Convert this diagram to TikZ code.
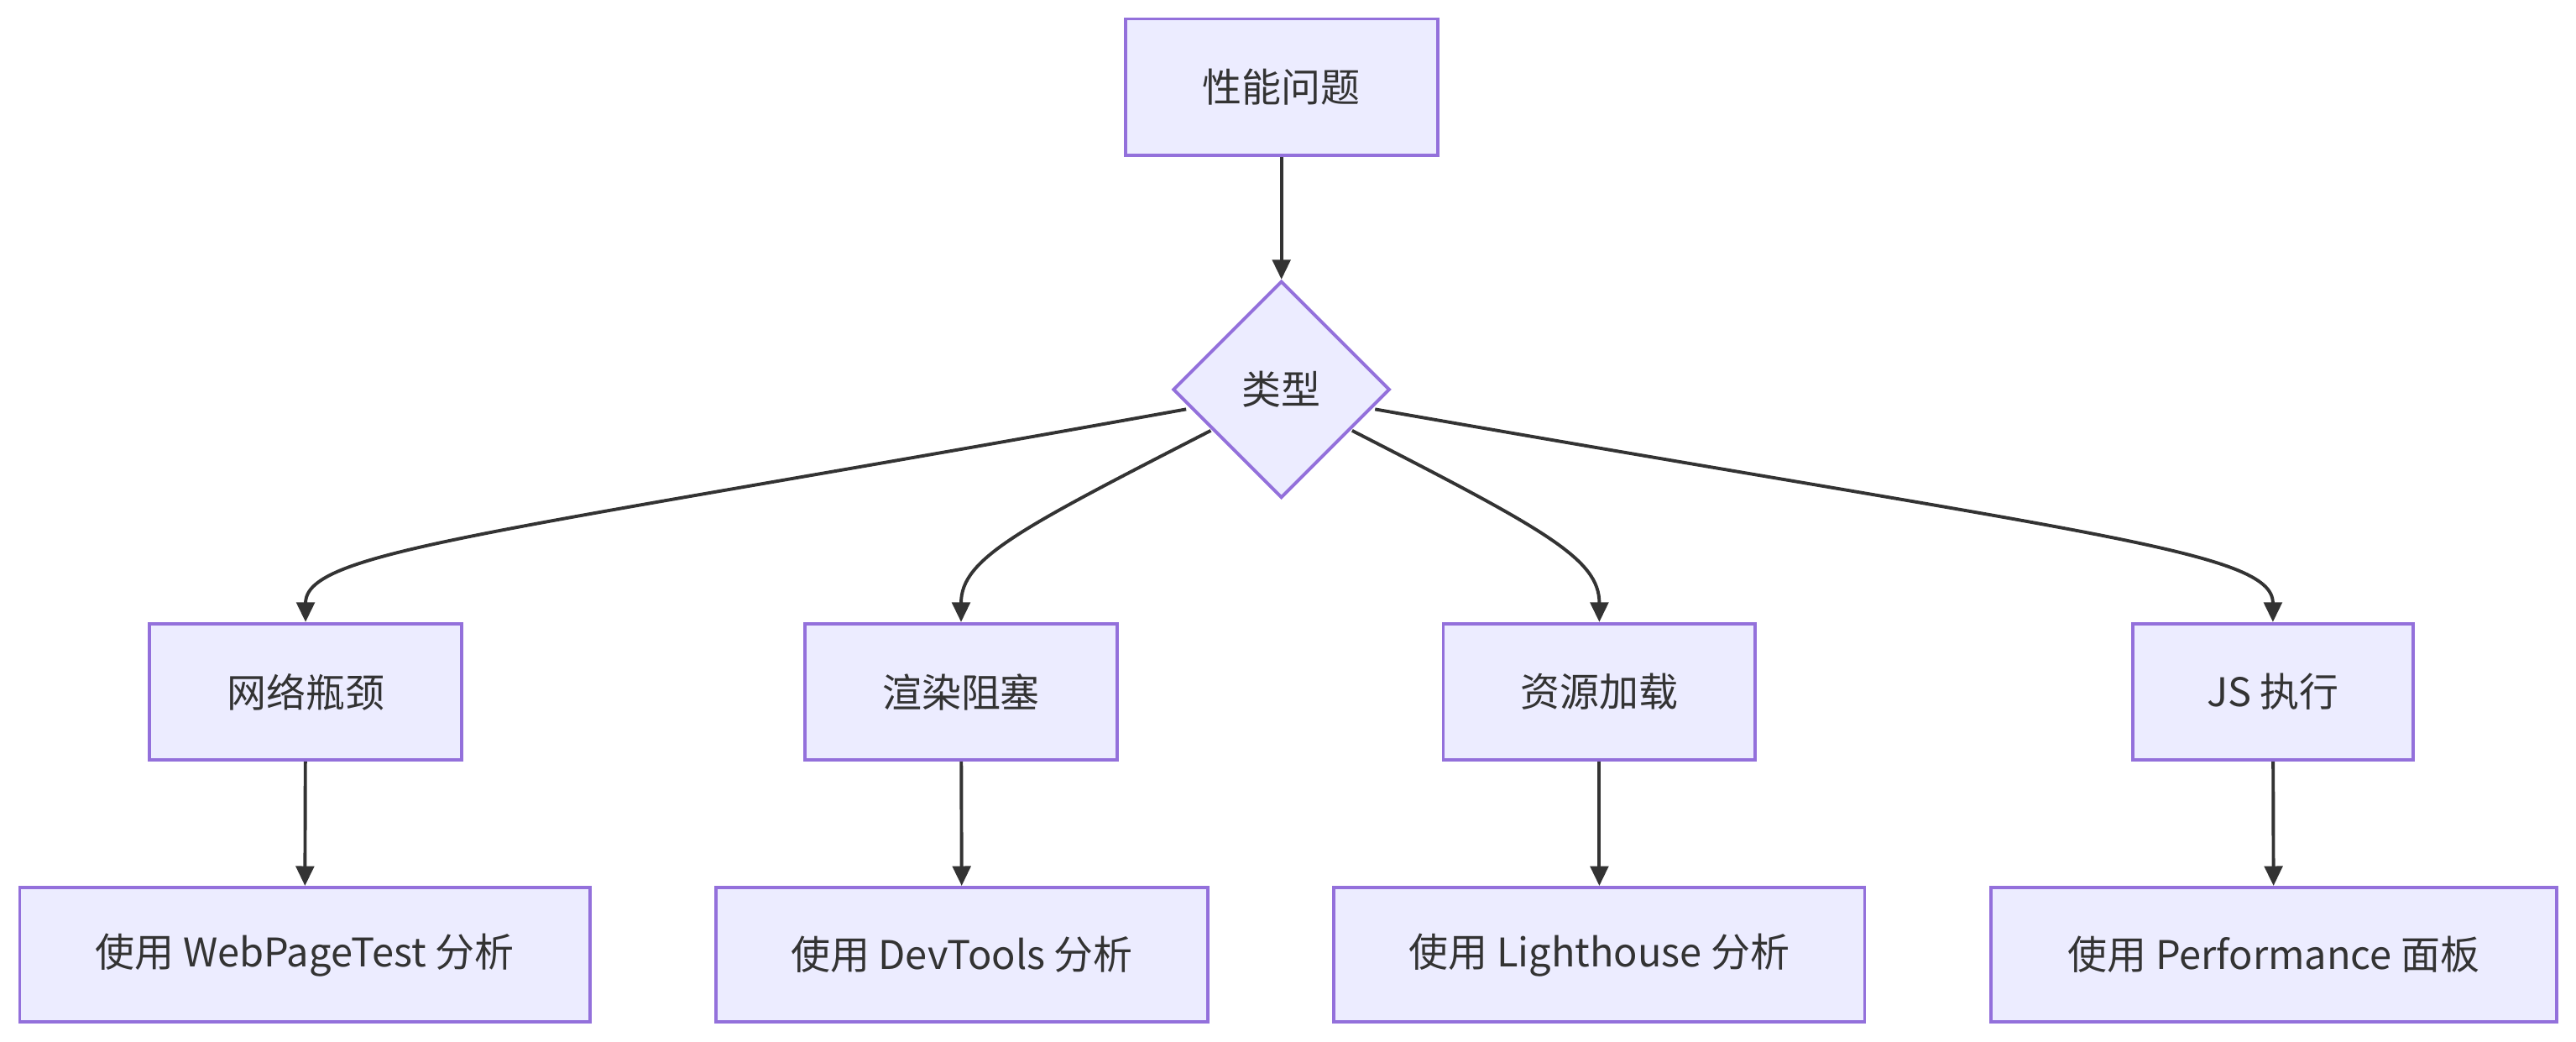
\documentclass[tikz,border=0pt]{standalone}
\usepackage{fontspec}
\newfontfamily\cjk{Noto Sans CJK SC}
\usetikzlibrary{shapes.geometric,arrows.meta}
\definecolor{nfill}{HTML}{ECECFF}
\definecolor{nline}{HTML}{9370DB}
\definecolor{eline}{HTML}{333333}
\begin{document}
\begin{tikzpicture}[x=0.5pt,y=-0.5pt,
  box/.style={draw=nline,fill=nfill,line width=1pt,inner sep=0pt,font=\cjk\fontsize{12}{14}\selectfont,text=eline},
  arr/.style={draw=eline,line width=1pt,-{Triangle[length=6pt,width=5.5pt]}}]
\useasboundingbox (0,0) rectangle (1568,634);
\node[box,minimum width=95pt,minimum height=41.5pt] (top) at (780,53) {性能问题};
\node[box,diamond,aspect=1,minimum width=66pt,minimum height=66pt] (d) at (780,237) {类型};
\node[box,minimum width=95pt,minimum height=41.5pt] (a1) at (186,421) {网络瓶颈};
\node[box,minimum width=95pt,minimum height=41.5pt] (a2) at (585,421) {渲染阻塞};
\node[box,minimum width=95pt,minimum height=41.5pt] (a3) at (973.5,421) {资源加载};
\node[box,minimum width=85.5pt,minimum height=41.5pt] (a4) at (1383.5,421) {JS 执行};
\node[box,minimum width=173.5pt,minimum height=41pt] (b1) at (185.5,581) {使用 WebPageTest 分析};
\node[box,minimum width=149.5pt,minimum height=41pt] (b2) at (585.5,581) {使用 DevTools 分析};
\node[box,minimum width=161.5pt,minimum height=41pt] (b3) at (973.5,581) {使用 Lighthouse 分析};
\node[box,minimum width=172pt,minimum height=41pt] (b4) at (1384,581) {使用 Performance 面板};
\coordinate (s1) at (722,249);
\coordinate (s2) at (737,262);
\coordinate (s3) at (823,262);
\coordinate (s4) at (837,249);
\draw[arr] (top) -- (d);
\draw[arr] (s1) .. controls (300,325) and (186,335) .. (a1.north);
\draw[arr] (s2) .. controls (620,322) and (585,340) .. (a2.north);
\draw[arr] (s3) .. controls (940,322) and (973.5,340) .. (a3.north);
\draw[arr] (s4) .. controls (1270,325) and (1383.5,335) .. (a4.north);
\draw[arr] (a1) -- (b1);
\draw[arr] (a2) -- (b2);
\draw[arr] (a3) -- (b3);
\draw[arr] (a4) -- (b4);
\end{tikzpicture}
\end{document}
